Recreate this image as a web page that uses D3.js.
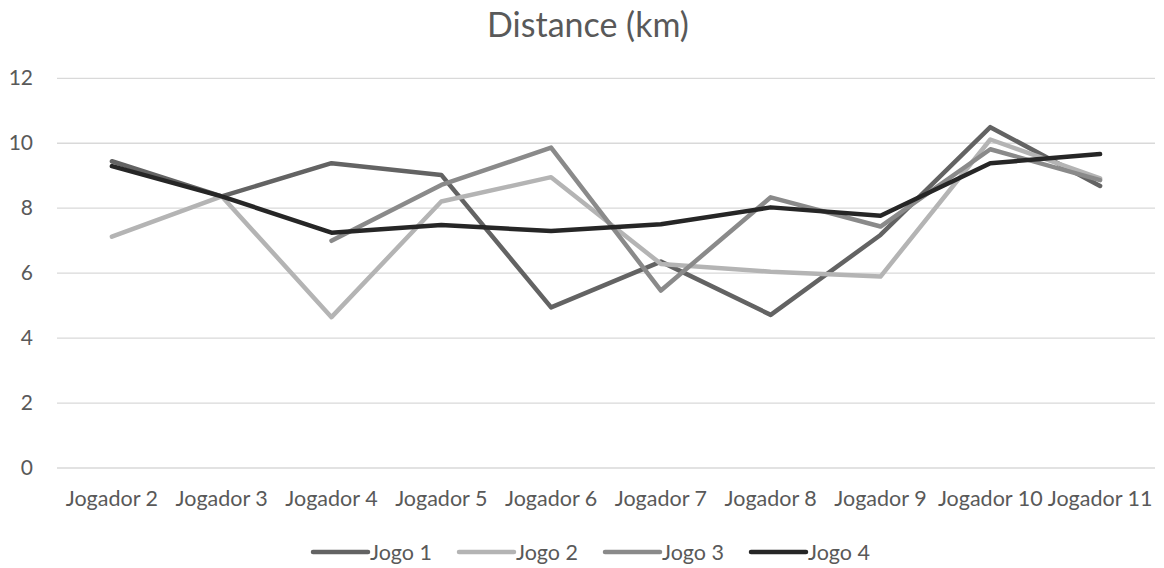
<!DOCTYPE html>
<html><head><meta charset="utf-8">
<script src="https://cdn.jsdelivr.net/npm/d3@7"></script>
<style>body{margin:0;background:#fff}svg{display:block}text{font-family:Lato,"Open Sans",sans-serif;fill:#595959}</style>
</head><body>
<script>
const categories = ["Jogador 2","Jogador 3","Jogador 4","Jogador 5","Jogador 6","Jogador 7","Jogador 8","Jogador 9","Jogador 10","Jogador 11"];
const seriesNames = ["Jogo 1","Jogo 2","Jogo 3","Jogo 4"];
const jogo1 = [9.43, 8.35, 9.37, 9.01, 4.93, 6.34, 4.70, 7.16, 10.48, 8.67];
const jogo2 = [7.11, 8.35, 4.63, 8.19, 8.94, 6.27, 6.03, 5.88, 10.1, 8.9];
const jogo3 = [null, null, 6.98, 8.7, 9.85, 5.45, 8.32, 7.42, 9.8, 8.85];
const jogo4 = [9.28, 8.35, 7.23, 7.47, 7.28, 7.49, 8.01, 7.75, 9.37, 9.65];
const yTicks = [0,2,4,6,8,10,12];
const colors = ["#636363","#b4b4b4","#8a8a8a","#262626"];
const series = [jogo1, jogo2, jogo3, jogo4];

const W = 1164, H = 568;
const svg = d3.select("body").append("svg").attr("width", W).attr("height", H);
const x = d3.scaleBand().domain(categories).range([57, 1155]);
const y = d3.scaleLinear().domain([0, 12]).range([467.5, 77.8]);

svg.append("text").attr("x", 588).attr("y", 37).attr("text-anchor","middle")
  .style("font-size","34px").text("Distance (km)");

const ya = svg.append("g").attr("transform","translate(57,0)")
  .call(d3.axisLeft(y).tickValues(yTicks).tickSize(-1098).tickPadding(24));
ya.select(".domain").remove();
ya.selectAll(".tick line").attr("stroke","#d9d9d9").attr("stroke-width",1.3);
ya.selectAll(".tick text").attr("font-family",null).attr("font-size",null)
  .style("font-size","21px").attr("fill","#595959");

const xa = svg.append("g").attr("transform","translate(0,467.5)")
  .call(d3.axisBottom(x).tickSize(0).tickPadding(23));
xa.select(".domain").remove();
xa.selectAll(".tick text").attr("font-family",null).attr("font-size",null)
  .style("font-size","21.5px").attr("fill","#595959");

const line = d3.line().defined(d => d != null)
  .x((d,i) => x(categories[i]) + x.bandwidth()/2).y(d => y(d));
series.forEach((s, k) => {
  svg.append("path").datum(s).attr("d", line).attr("fill","none")
    .attr("stroke", colors[k]).attr("stroke-width", 4.5)
    .attr("stroke-linecap","round").attr("stroke-linejoin","round");
});

const lg = svg.append("g");
seriesNames.forEach((n, k) => {
  const lx = 313 + k * 146;
  lg.append("line").attr("x1", lx).attr("x2", lx + 55).attr("y1", 552).attr("y2", 552)
    .attr("stroke", colors[k]).attr("stroke-width", 4.5).attr("stroke-linecap","round");
  lg.append("text").attr("x", lx + 57).attr("y", 560).style("font-size","21.5px").text(n);
});
</script>
</body></html>
